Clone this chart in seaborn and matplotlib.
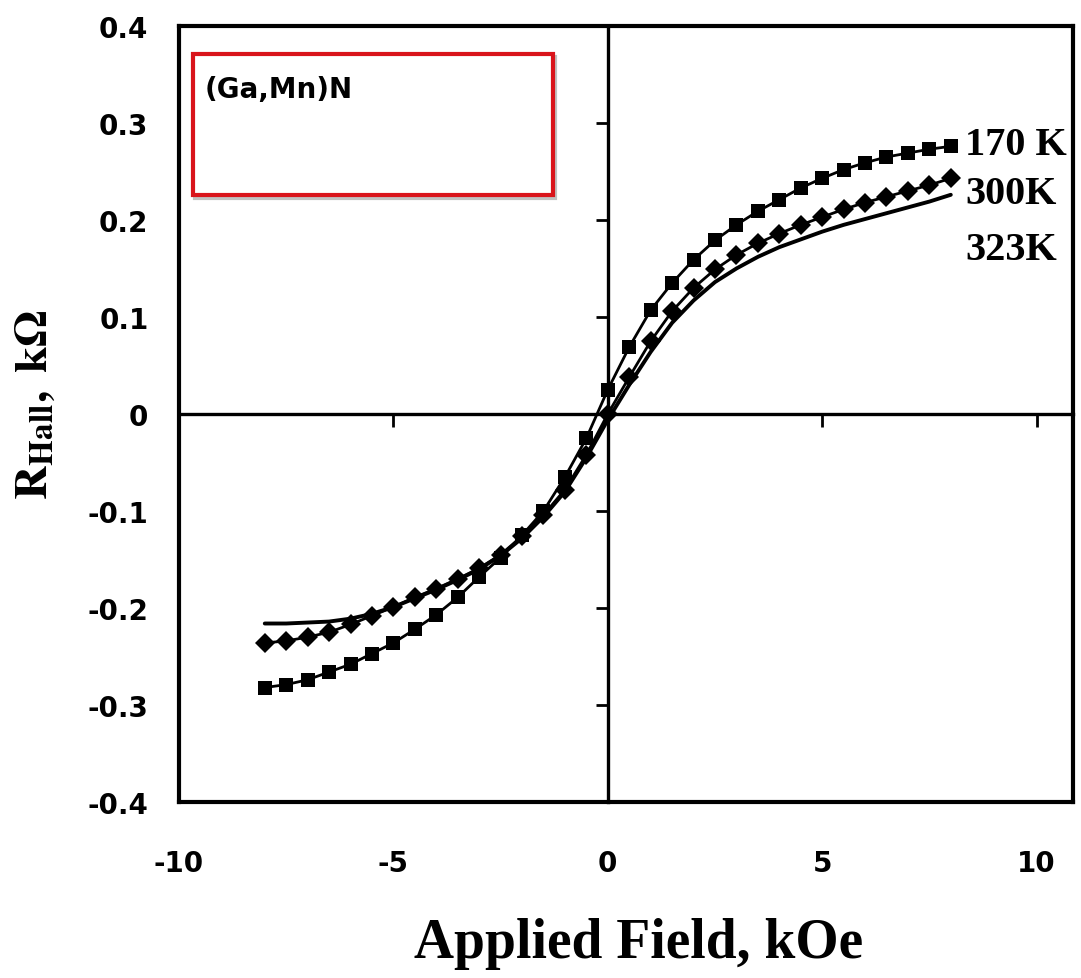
import pandas as pd
import seaborn as sns
import matplotlib.pyplot as plt
import matplotlib.patches as mpatches

# values
field = [-8.0, -7.5, -7.0, -6.5, -6.0, -5.5, -5.0, -4.5, -4.0, -3.5, -3.0, -2.5, -2.0, -1.5, -1.0, -0.5,
         0.0, 0.5, 1.0, 1.5, 2.0, 2.5, 3.0, 3.5, 4.0, 4.5, 5.0, 5.5, 6.0, 6.5, 7.0, 7.5, 8.0]
r170 = [-0.282, -0.279, -0.274, -0.266, -0.258, -0.247, -0.236, -0.222, -0.207, -0.189, -0.168, -0.148,
        -0.125, -0.100, -0.065, -0.025, 0.025, 0.069, 0.107, 0.135, 0.159, 0.179, 0.195, 0.209, 0.221,
        0.233, 0.243, 0.252, 0.259, 0.265, 0.269, 0.273, 0.276]
r300 = [-0.236, -0.234, -0.230, -0.225, -0.217, -0.208, -0.199, -0.189, -0.180, -0.170, -0.159, -0.145,
        -0.126, -0.104, -0.078, -0.042, 0.000, 0.038, 0.075, 0.106, 0.130, 0.149, 0.164, 0.176, 0.186,
        0.195, 0.203, 0.211, 0.218, 0.224, 0.230, 0.236, 0.243]
r323 = [-0.216, -0.216, -0.215, -0.214, -0.211, -0.206, -0.199, -0.190, -0.181, -0.171, -0.160, -0.146,
        -0.128, -0.106, -0.080, -0.045, -0.006, 0.030, 0.064, 0.094, 0.117, 0.136, 0.150, 0.162, 0.172,
        0.180, 0.188, 0.195, 0.201, 0.207, 0.213, 0.219, 0.226]
temp_labels = ['170 K', '300K', '323K']
x_ticks = [-10, -5, 0, 5, 10]
y_ticks = [-0.4, -0.3, -0.2, -0.1, 0.0, 0.1, 0.2, 0.3, 0.4]
y_ticklabels = ['-0.4', '-0.3', '-0.2', '-0.1', '0', '0.1', '0.2', '0.3', '0.4']

df = pd.DataFrame({'field': field, 'r170': r170, 'r300': r300, 'r323': r323})

sns.set_style('white')
plt.rcParams['font.family'] = ['DejaVu Sans']
plt.rcParams['axes.unicode_minus'] = False
plt.rcParams['mathtext.fontset'] = 'stix'
for k in ['text.color', 'axes.labelcolor', 'xtick.color', 'ytick.color', 'axes.edgecolor']:
    plt.rcParams[k] = 'black'

fig = plt.figure(figsize=(10.81, 9.79), dpi=100)
ax = fig.add_axes([0.1656, 0.1798, 0.8270, 0.7926])

sns.lineplot(data=df, x='field', y='r323', color='black', lw=2.8, ax=ax)
sns.lineplot(data=df, x='field', y='r300', color='black', lw=2, marker='D', markersize=10,
             markeredgewidth=0, ax=ax)
sns.lineplot(data=df, x='field', y='r170', color='black', lw=2, marker='s', markersize=10,
             markeredgewidth=0, ax=ax)

ax.set_xlim(-10, 10.85)
ax.set_ylim(-0.4, 0.4)
ax.set_xticks(x_ticks)
ax.set_xticklabels([str(t) for t in x_ticks])
ax.set_yticks(y_ticks)
ax.set_yticklabels(y_ticklabels)
ax.tick_params(length=0, labelsize=20)
ax.tick_params(axis='y', pad=22)
ax.tick_params(axis='x', pad=34)
for lab in ax.get_xticklabels() + ax.get_yticklabels():
    lab.set_fontweight('bold')
for sp in ax.spines.values():
    sp.set_linewidth(3)
    sp.set_color('black')

ax.set_xlabel('Applied Field, kOe', fontsize=40, fontweight='bold', family='Liberation Serif')
ax.xaxis.set_label_coords(0.514, -0.148)
ax.set_ylabel(r'$\mathbf{R_{Hall},\ k\Omega}$', fontsize=34)
ax.yaxis.set_label_coords(-0.137, 0.513)

# centre lines with their own ticks
axc = fig.add_axes(ax.get_position(), sharex=ax, sharey=ax)
axc.patch.set_visible(False)
axc.spines['top'].set_visible(False)
axc.spines['right'].set_visible(False)
axc.spines['left'].set_position(('data', 0))
axc.spines['bottom'].set_position(('data', 0))
for s in ['left', 'bottom']:
    axc.spines[s].set_linewidth(2.4)
    axc.spines[s].set_color('black')
axc.tick_params(direction='out', length=9, width=2, labelleft=False, labelbottom=False,
                left=True, bottom=True, colors='black')
axc.set_xlabel('')
axc.set_ylabel('')

# temperature labels
end_y = [0.278, 0.227, 0.170]
for lab, yy in zip(temp_labels, end_y):
    ax.text(8.33, yy, lab, fontsize=29, fontweight='bold', family='Liberation Serif',
            ha='left', va='center')

# red sample box with a soft shadow
shadow = mpatches.Rectangle((0.0177, 0.778), 0.403, 0.182, transform=ax.transAxes, fill=False,
                            edgecolor='#999999', lw=3, alpha=0.6)
ax.add_patch(shadow)
box = mpatches.Rectangle((0.0157, 0.782), 0.403, 0.182, transform=ax.transAxes, fill=True,
                         facecolor='white', edgecolor='#d9141b', lw=3)
ax.add_patch(box)
ax.text(0.029, 0.919, '(Ga,Mn)N', transform=ax.transAxes, fontsize=20, fontweight='bold',
        ha='left', va='center')

plt.savefig('out.png', dpi=100)
